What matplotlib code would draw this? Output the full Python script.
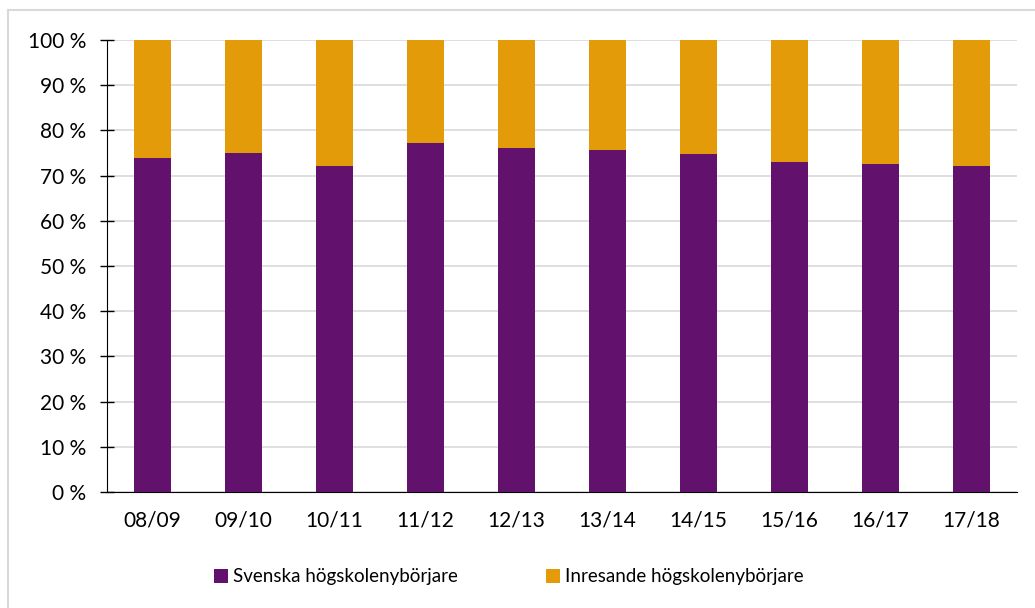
import matplotlib.pyplot as plt
from matplotlib.lines import Line2D
from matplotlib.ticker import FuncFormatter

years = ["08/09", "09/10", "10/11", "11/12", "12/13", "13/14", "14/15", "15/16", "16/17", "17/18"]
svenska = [74.0, 75.0, 72.1, 77.3, 76.2, 75.6, 74.7, 73.1, 72.5, 72.1]
inresande = [100 - v for v in svenska]

purple = "#62126d"
orange = "#e39b09"

plt.rcParams['font.family'] = ['Lato', 'DejaVu Sans']

fig = plt.figure(figsize=(10.35, 6.08), dpi=100)
ax = fig.add_axes([0.1034, 0.1908, 0.8792, 0.7434])

x = range(len(years))
ax.bar(x, svenska, width=0.4, color=purple, label="Svenska högskolenybörjare", zorder=3)
ax.bar(x, inresande, width=0.4, bottom=svenska, color=orange,
       label="Inresande högskolenybörjare", zorder=3)

ax.set_xlim(-0.5, len(years) - 0.5)
ax.set_ylim(0, 100)
ax.set_yticks(range(0, 101, 10))
ax.yaxis.set_major_formatter(FuncFormatter(lambda v, p: f"{int(v)} %"))
ax.set_xticks(list(x))
ax.set_xticklabels(years)
ax.grid(axis='y', color='#d9d9d9', linewidth=1.2, zorder=0)
ax.set_axisbelow(True)

for s in ['top', 'right']:
    ax.spines[s].set_visible(False)
ax.spines['left'].set_color('black')
ax.spines['bottom'].set_color('black')
ax.tick_params(axis='y', direction='inout', length=10, width=1, labelsize=15, pad=10)
ax.tick_params(axis='x', length=0, labelsize=15, pad=13)

fig.legend(loc='center left', bbox_to_anchor=(0.207, 0.051), ncol=2, frameon=False,
           fontsize=13.5, handlelength=0.75, handleheight=0.75, handletextpad=0.25,
           columnspacing=4.7, borderpad=0, borderaxespad=0)

# light frame, only left and top edges are visible in the original
fig.lines.append(Line2D([0.0075, 0.0075], [0.0, 0.983], transform=fig.transFigure,
                        color='#d9d9d9', linewidth=1.5))
fig.lines.append(Line2D([0.0075, 1.0], [0.983, 0.983], transform=fig.transFigure,
                        color='#d9d9d9', linewidth=1.5))

fig.savefig("out.png", dpi=100)
